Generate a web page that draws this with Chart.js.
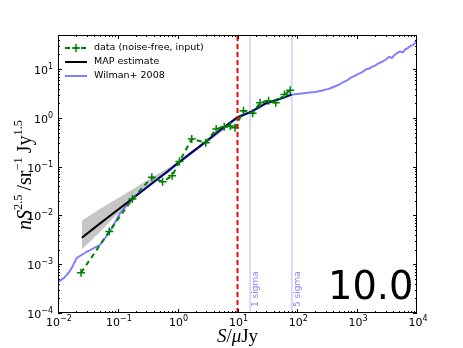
<!DOCTYPE html>
<html>
<head>
<meta charset="utf-8">
<script src="https://cdn.jsdelivr.net/npm/chart.js@4.4.1/dist/chart.umd.min.js"></script>
<style>
    html, body { margin: 0; padding: 0; background: #fff; }
</style>
</head>
<body>
<canvas id="countsChart" width="463" height="348"></canvas>
<script>
// input source counts (noise-free)
const dataFlux = [0.0243, 0.072, 0.175, 0.37, 0.56, 0.81, 1.07, 1.72, 2.95, 4.4, 6.0, 7.6, 9.1, 12.6, 17.9, 23.9, 33, 43.5, 61, 76];
const dataCounts = [6.7e-4, 4.7e-3, 0.0216, 0.061, 0.049, 0.065, 0.127, 0.37, 0.31, 0.59, 0.66, 0.68, 0.63, 1.40, 1.24, 2.05, 2.25, 2.05, 3.0, 3.7];

// MAP estimate and its band
const mapFlux = [0.025, 0.05, 0.1, 0.2, 0.37, 0.7, 1, 2, 3, 5, 10, 17, 30, 50, 80];
const mapCounts = [0.0035, 0.0068, 0.0131, 0.0251, 0.045, 0.082, 0.117, 0.226, 0.33, 0.55, 1.03, 1.34, 2.0, 2.43, 3.0];
const mapUpper = [0.0078, 0.0135, 0.0224, 0.038, 0.060, 0.094, 0.127, 0.238, 0.345, 0.57, 1.07, 1.39, 2.07, 2.51, 3.1];
const mapLower = [0.0020, 0.0046, 0.0109, 0.0235, 0.043, 0.079, 0.113, 0.218, 0.318, 0.53, 0.99, 1.29, 1.93, 2.35, 2.9];

// Wilman+ 2008 model
const wilmanFlux = [0.01, 0.0125, 0.0149, 0.0169, 0.0206, 0.0302, 0.0504, 0.074, 0.109, 0.18, 0.3, 1, 3, 10, 17, 30, 50, 81,
    100, 130, 160, 200, 250, 300, 350, 400, 500, 600, 700, 800, 900, 1000, 1200, 1400, 1600, 1800, 2000, 2300, 2600,
    3000, 3400, 3800, 4200, 4700, 5200, 5800, 6400, 7000, 7700, 8500, 9300, 10000];
const wilmanCounts = [4.3e-4, 5.2e-4, 6.6e-4, 8.3e-4, 1.35e-3, 1.8e-3, 2.5e-3, 4.7e-3, 0.0112, 0.023, 0.037, 0.115, 0.32, 1.0, 1.32, 1.95, 2.4, 3.0,
    3.1, 3.2, 3.3, 3.4, 3.6, 3.8, 4.0, 4.3, 4.8, 5.5, 6.0, 6.8, 7.2, 7.8, 8.6, 9.8, 10.3, 11.2, 11.8, 13.2, 14.0,
    15.5, 17.8, 16.9, 19.5, 21.5, 23.0, 22.0, 25.5, 27.0, 29.5, 31.0, 34.5, 40.0];

// reference lines
const cutFlux = 10;
const sigmaFlux = [16.2, 81];
const sigmaLabels = ['1 sigma', '5 sigma'];
const panelLabel = '10.0';

const xRange = [1e-2, 1e4];
const yRange = [1e-4, 50];
const xExps = [-2, -1, 0, 1, 2, 3, 4];
const yExps = [-4, -3, -2, -1, 0, 1];

function pts(xs, ys) {
    return xs.map((x, i) => ({ x: x, y: ys[i] }));
}

function vline(x) {
    return [{ x: x, y: yRange[0] }, { x: x, y: yRange[1] }];
}

const palette = {
    green: '#008000',
    black: '#000000',
    wilman: 'rgba(0, 0, 255, 0.5)',
    sigma: 'rgba(0, 0, 255, 0.2)',
    band: 'rgba(128, 128, 128, 0.45)',
    red: '#ff0000',
};

function plusMarker(ctx, x, y, r) {
    ctx.beginPath();
    ctx.moveTo(x - r, y);
    ctx.lineTo(x + r, y);
    ctx.moveTo(x, y - r);
    ctx.lineTo(x, y + r);
    ctx.stroke();
}

function drawPow(ctx, exp, x, y, align) {
    const base = '10';
    const sup = String(exp).replace('-', '\u2212');
    ctx.font = '11px "DejaVu Sans"';
    const wb = ctx.measureText(base).width;
    ctx.font = '8px "DejaVu Sans"';
    const ws = ctx.measureText(sup).width;
    const x0 = align === 'right' ? x - wb - ws : x - (wb + ws) / 2;
    ctx.textAlign = 'left';
    ctx.textBaseline = 'alphabetic';
    ctx.font = '11px "DejaVu Sans"';
    ctx.fillText(base, x0, y);
    ctx.font = '8px "DejaVu Sans"';
    ctx.fillText(sup, x0 + wb, y - 5);
}

// rich text: [text, italic, superscript]
function partFont(p, size) {
    return (p[1] ? 'italic ' : '') + (p[2] ? size * 0.62 : size) + 'px "Liberation Serif"';
}

function richWidth(ctx, parts, size) {
    let w = 0;
    parts.forEach(p => {
        ctx.font = partFont(p, size);
        w += ctx.measureText(p[0]).width;
    });
    return w;
}

function drawRich(ctx, parts, size, x, y) {
    let cx = x;
    ctx.textAlign = 'left';
    ctx.textBaseline = 'alphabetic';
    parts.forEach(p => {
        ctx.font = partFont(p, size);
        ctx.fillText(p[0], cx, p[2] ? y - size * 0.45 : y);
        cx += ctx.measureText(p[0]).width;
    });
}

const decorPlugin = {
    id: 'decor',
    afterDraw(chart) {
        const { ctx, chartArea: a } = chart;
        const xs = chart.scales.x;
        const ys = chart.scales.y;
        ctx.save();

        // frame
        ctx.strokeStyle = '#000';
        ctx.lineWidth = 1;
        ctx.strokeRect(a.left + 0.5, a.top + 0.5, a.right - a.left - 1, a.bottom - a.top - 1);

        // ticks, inward on all sides
        ctx.beginPath();
        for (let e = -2; e < 4; e++) {
            for (let m = 1; m < 10; m++) {
                const v = m * Math.pow(10, e);
                const px = Math.round(xs.getPixelForValue(v)) + 0.5;
                const len = m === 1 ? 4 : 2;
                ctx.moveTo(px, a.bottom);
                ctx.lineTo(px, a.bottom - len);
                ctx.moveTo(px, a.top);
                ctx.lineTo(px, a.top + len);
            }
        }
        for (let e = -4; e < 2; e++) {
            for (let m = 1; m < 10; m++) {
                const v = m * Math.pow(10, e);
                if (v >= yRange[1]) continue;
                const py = Math.round(ys.getPixelForValue(v)) + 0.5;
                const len = m === 1 ? 4 : 2;
                ctx.moveTo(a.left, py);
                ctx.lineTo(a.left + len, py);
                ctx.moveTo(a.right, py);
                ctx.lineTo(a.right - len, py);
            }
        }
        ctx.stroke();

        // tick labels
        ctx.fillStyle = '#000';
        xExps.forEach(e => drawPow(ctx, e, xs.getPixelForValue(Math.pow(10, e)) + 1, a.bottom + 13, 'center'));
        yExps.forEach(e => drawPow(ctx, e, a.left - 5, ys.getPixelForValue(Math.pow(10, e)) + 5, 'right'));

        // axis titles
        const xTitle = [['S', true, false], ['/', false, false], ['\u03bc', true, false], ['Jy', false, false]];
        const xw = richWidth(ctx, xTitle, 19);
        drawRich(ctx, xTitle, 19, (a.left + a.right) / 2 - xw / 2, 342);

        const yTitle = [['n', true, false], ['S', true, false], ['2.5', false, true], ['\u2009/', false, false],
            ['sr', false, false], ['\u22121', false, true], ['\u2009Jy', false, false], ['1.5', false, true]];
        const yw = richWidth(ctx, yTitle, 20);
        ctx.save();
        ctx.translate(31, 175);
        ctx.rotate(-Math.PI / 2);
        drawRich(ctx, yTitle, 20, -yw / 2, 0);
        ctx.restore();

        // sigma labels
        ctx.fillStyle = 'rgba(110, 110, 255, 0.85)';
        ctx.font = '9px "DejaVu Sans"';
        sigmaFlux.forEach((s, i) => {
            ctx.save();
            ctx.translate(xs.getPixelForValue(s) + 8, a.bottom - 6);
            ctx.rotate(-Math.PI / 2);
            ctx.textAlign = 'left';
            ctx.textBaseline = 'alphabetic';
            ctx.fillText(sigmaLabels[i], 0, 0);
            ctx.restore();
        });

        // panel label, ink fitted between x 332 and 411
        ctx.fillStyle = '#000';
        ctx.textAlign = 'left';
        ctx.textBaseline = 'alphabetic';
        ctx.font = '40px "DejaVu Sans"';
        let m = ctx.measureText(panelLabel);
        const size = 40 * 79 / (m.actualBoundingBoxLeft + m.actualBoundingBoxRight);
        ctx.font = size.toFixed(1) + 'px "DejaVu Sans"';
        m = ctx.measureText(panelLabel);
        ctx.fillText(panelLabel, 411 - m.actualBoundingBoxRight, 298.5);

        // legend
        const rows = [
            { label: 'data (noise-free, input)', color: palette.green, dash: [5, 3], marker: true },
            { label: 'MAP estimate', color: palette.black, dash: [], marker: false },
            { label: 'Wilman+ 2008', color: palette.wilman, dash: [], marker: false },
        ];
        rows.forEach((r, i) => {
            const ry = 48 + i * 14;
            ctx.strokeStyle = r.color;
            ctx.lineWidth = 2;
            ctx.setLineDash(r.dash);
            ctx.beginPath();
            ctx.moveTo(65, ry);
            ctx.lineTo(87, ry);
            ctx.stroke();
            ctx.setLineDash([]);
            if (r.marker) {
                ctx.lineWidth = 1.5;
                plusMarker(ctx, 76, ry, 4);
            }
            ctx.fillStyle = '#000';
            ctx.font = '9.5px "DejaVu Sans"';
            ctx.textAlign = 'left';
            ctx.textBaseline = 'middle';
            ctx.fillText(r.label, 94, ry);
        });

        ctx.restore();
    },
};

const element = document.getElementById('countsChart');

new Chart(element, {
    type: 'scatter',
    data: {
        datasets: [
            {
                label: 'data (noise-free, input)',
                data: pts(dataFlux, dataCounts),
                showLine: true,
                borderColor: palette.green,
                borderWidth: 2,
                borderDash: [5, 4],
                pointStyle: 'cross',
                pointRadius: 4,
                pointBorderWidth: 1.5,
                pointBorderColor: palette.green,
                order: 0,
            },
            {
                label: 'cut',
                data: vline(cutFlux),
                showLine: true,
                borderColor: palette.red,
                borderWidth: 2,
                borderDash: [5, 3],
                pointRadius: 0,
                order: -1,
            },
            {
                label: 'Wilman+ 2008',
                data: pts(wilmanFlux, wilmanCounts),
                showLine: true,
                borderColor: palette.wilman,
                borderWidth: 2,
                pointRadius: 0,
                order: 1,
            },
            {
                label: 'MAP estimate',
                data: pts(mapFlux, mapCounts),
                showLine: true,
                borderColor: palette.black,
                borderWidth: 2,
                pointRadius: 0,
                order: 2,
            },
            {
                label: 'band upper',
                data: pts(mapFlux, mapUpper),
                showLine: true,
                borderWidth: 0,
                borderColor: 'rgba(0,0,0,0)',
                backgroundColor: palette.band,
                fill: '+1',
                pointRadius: 0,
                order: 3,
            },
            {
                label: 'band lower',
                data: pts(mapFlux, mapLower),
                showLine: true,
                borderWidth: 0,
                borderColor: 'rgba(0,0,0,0)',
                pointRadius: 0,
                order: 3,
            },
            {
                label: '1 sigma',
                data: vline(sigmaFlux[0]),
                showLine: true,
                borderColor: palette.sigma,
                borderWidth: 1.5,
                pointRadius: 0,
                order: 5,
            },
            {
                label: '5 sigma',
                data: vline(sigmaFlux[1]),
                showLine: true,
                borderColor: palette.sigma,
                borderWidth: 1.5,
                pointRadius: 0,
                order: 5,
            },
        ],
    },
    options: {
        responsive: false,
        animation: false,
        layout: { padding: { left: 58, right: 46, top: 35, bottom: 35 } },
        plugins: {
            legend: { display: false },
            tooltip: { enabled: false },
        },
        scales: {
            x: { type: 'logarithmic', min: xRange[0], max: xRange[1], display: false },
            y: { type: 'logarithmic', min: yRange[0], max: yRange[1], display: false },
        },
    },
    plugins: [decorPlugin],
});
</script>
</body>
</html>
